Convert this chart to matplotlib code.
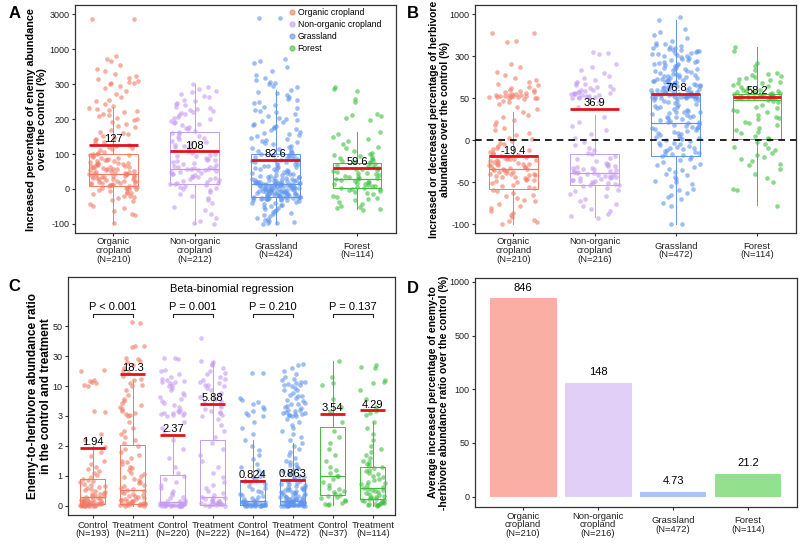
import numpy as np
import matplotlib
matplotlib.use('Agg')
import matplotlib.pyplot as plt
from matplotlib.lines import Line2D
from matplotlib.transforms import blended_transform_factory

plt.rcParams['font.family'] = ['Liberation Sans', 'DejaVu Sans']

# colours
pt_colors = ['#F27A63', '#C59BF2', '#5E94EE', '#3DBE3D']
bar_colors = ['#F9AFA3', '#E2CFF8', '#A9C6F2', '#93E08F']
mean_color = '#E3121C'
habitats = ['Organic cropland', 'Non-organic cropland', 'Grassland', 'Forest']

# ---------------- panel A: enemy abundance (%)
A_labels = ['Organic\ncropland\n(N=210)', 'Non-organic\ncropland\n(N=212)', 'Grassland\n(N=424)', 'Forest\n(N=114)']
A_org = [2750, 2720, 860, 800, 760, 690, 610, 560, 500, 470, 430, 400, 370, 345, 330, 318, 305,
         296, 288, 281, 272, 263, 256, 251, 244, 238, 233, 228, 226, 223, 219, 216, 213, 209, 204, 201,
         197, 191, 186, 181, 177, 169, 164, 161, 156, 151, 147, 143, 139, 134, 131, 127, 124, 121, 117, 114, 111, 107, 104, 101,
         99, 97, 96, 93, 91, 89, 88, 86, 84, 82, 81, 79, 77, 75, 74, 72, 71, 69, 67, 66, 64, 62, 61, 59, 57, 56, 54, 52,
         51, 49, 48, 47, 45, 44, 43, 41, 40, 38, 37, 35, 34, 32, 31, 29, 27, 26, 24, 22, 21, 19, 18, 16, 14, 13, 12, 10,
         9, 7, 6, 4, 3, 1, 46, 42, 36, 33, 28, 23, 17, 11, 8, 2, 53, 58, 63, 68, 73,
         -1, -3, -6, -8, -11, -13, -16, -19, -21, -24, -27, -31, -36, -42, -48, -56, -62, -71, -76, -99]
A_non = [301, 292, 287, 281, 277, 271, 266, 262, 256, 251, 247, 243, 239, 236, 233, 229, 227, 224, 221, 218, 214, 211,
         207, 203, 199, 196, 193, 189, 186, 182, 178, 174, 171, 167, 164, 161, 157, 153, 149, 146, 142, 138, 134, 131,
         127, 123, 119, 116, 112, 108, 104, 101, 98, 95, 93, 90, 87, 84, 82, 79, 77, 74, 71, 69, 66, 64, 61, 59, 57, 55,
         53, 51, 49, 47, 44, 42, 39, 37, 34, 31, 29, 26, 23, 21, 18, 15, 13, 11, 8, 6, 3, 0, 58, 62, 56, 48, 35, 27, 17,
         -4, -9, -14, -19, -26, -33, -41, -52, -61, -72, -84, -92, -99, -100]
A_grass = [2820, 2800, 810, 770, 720, 640, 560, 480, 420, 380, 352, 331, 312,
           296, 291, 284, 279, 274, 268, 263, 258, 254, 249, 246, 241, 236, 231, 227, 223, 219, 214, 209, 204, 201,
           197, 194, 191, 187, 184, 181, 177, 174, 171, 168, 164, 161, 157, 154, 151, 147, 144, 141, 137, 134, 131,
           128, 124, 121, 118, 114, 111, 108, 105, 102,
           100, 98, 96, 94, 93, 91, 89, 88, 86, 84, 83, 81, 79, 78, 76, 74, 72, 71, 69, 67, 66, 64, 62, 61, 59, 57,
           56, 54, 52, 51, 49, 47, 46, 44, 43, 41, 40, 38, 37, 35, 34, 33, 31, 30, 29, 27, 26, 25, 24, 22, 21, 20,
           19, 18, 17, 16, 15, 14, 13, 12, 11, 10, 9, 8, 7, 6, 5, 4, 3, 2, 1, 0,
           2, 5, 8, 11, 14, 17, 20, 23, 26, 29, 4, 7, 10, 13, 16, 19, 22, 1, 6, 12,
           -1, -2, -3, -4, -5, -6, -7, -8, -9, -10, -11, -12, -13, -14, -15, -16, -17, -18, -19, -20,
           -21, -22, -23, -24, -25, -26, -27, -28, -29, -30, -32, -33, -35, -37, -39, -41, -43, -45, -47, -50,
           -52, -55, -58, -61, -64, -67, -70, -73, -76, -79, -82, -85, -88, -91, -94, -97, -99, -100,
           -2, -5, -8, -12, -15, -18, -21, -24, -27, -29, -3, -7, -10, -14, -17, -20, -22, -25, -28, -31]
A_forest = [292, 286, 281, 258, 248, 214, 211, 209, 204, 198, 164, 158, 149, 143, 137, 128, 121, 116, 109, 104,
            99, 97, 94, 91, 89, 86, 83, 81, 78, 76, 73, 71, 68, 66, 63, 61, 58, 56, 54, 51, 49, 47, 45, 43, 41,
            38, 36, 34, 32, 30, 29, 27, 25, 23, 21, 19, 17, 15, 13, 11, 9, 7, 5, 4, 2, 1,
            -1, -3, -6, -9, -12, -16, -19, -23, -26, -29, -33, -38, -43, -48, -52, -55, -57, -59]
A_q1 = [9, 13, -22, 2]
A_med = [44, 58, 14, 29]
A_q3 = [100, 162, 100, 73]
A_lo = [-100, -100, -100, -57]
A_hi = [235, 300, 283, 164]
A_mean = [127, 108, 82.6, 59.6]

# ---------------- panel B: herbivore abundance (%)
B_labels = ['Organic\ncropland\n(N=210)', 'Non-organic\ncropland\n(N=216)', 'Grassland\n(N=472)', 'Forest\n(N=114)']
B_org = [690, 680, 560, 540, 255, 238, 205, 186, 172, 158, 147, 136, 127, 118, 109, 101, 96, 91, 86, 81, 76, 71,
         68, 66, 63, 60, 58, 56, 53, 51, 49, 47, 45, 43, 40, 37, 88, 74, 64, 55, 52, 57, 61,
         33, 30, 27, 24, 21, 18, 15, 12, 9, 6, 3, 1, -1, -3, -5, -7, -9, -11, -12, -14, -15, -17, -18, -19, -20,
         -21, -22, -23, -24, -25, -26, -27, -28, -29, -30, -31, -32, -33, -34, -35, -36, -37, -38, -39, -40, -41,
         -42, -43, -44, -45, -46, -47, -48, -49, -51, -53, -55, -57, -59, -61, -63, -65, -67, -69, -71, -73, -76,
         -79, -81, -84, -87, -89, -92, -95, -97, -98, -100,
         -20.5, -23.5, -26.5, -29.5, -32.5, -35.5, -38.5, -41.5, -44.5, -22, -28, -34, -40, -50, -56]
B_non = [372, 358, 331, 252, 238, 219, 201, 183, 171, 159, 148, 139, 133, 127, 122, 116, 111, 106, 101, 96, 92,
         88, 85, 83, 80, 77, 75, 72, 69, 67, 64, 62, 59, 57, 54, 52, 50, 45, 40,
         28, 22, 17, 12, 7, 3, -2, -6, -9, -12, -15, -17, -19, -21, -23, -25, -27, -29, -30, -31, -32, -33, -34,
         -35, -36, -37, -38, -39, -40, -41, -42, -43, -44, -45, -46, -47, -48, -49, -50, -51, -52, -53, -54, -55,
         -57, -59, -61, -64, -67, -70, -73, -76, -79, -82, -85, -88, -91, -93,
         -36.5, -39.5, -42.5, -45.5, -48.5, -33.5, -30.5, -51.5, -44, -38]
B_grass = [950, 900, 750, 700, 650, 600, 560, 520, 500, 480, 460, 440, 420, 400, 380, 360, 340, 320, 300, 290,
           280, 270, 262, 251, 243, 231, 222, 209, 201, 196, 189, 184, 178, 176, 169, 164, 161, 155, 151, 146, 139,
           136, 129, 126, 121, 114, 111, 106, 101, 98, 96, 93, 92, 89, 88, 85, 84, 81, 80, 77, 76, 73, 72, 70, 69,
           68, 66, 65, 64, 63, 61, 60, 59, 58, 57, 55, 54, 53, 52, 51, 49, 48, 47, 46, 45, 43, 42, 41, 40, 39, 37,
           36, 35, 34, 33, 31, 30, 29, 28, 27, 25, 24, 23, 22, 21, 19, 18, 17, 16, 15, 13, 12, 11, 10, 9, 7, 6, 5,
           4, 3, 1, 0, -1, -3, -4, -5, -6, -8, -9, -10, -11, -13, -14, -15, -16, -17, -19, -20, -22, -24, -26, -28,
           -30, -32, -34, -36, -38, -41, -42, -44, -46, -49, -50, -52, -55, -58, -60, -63, -65, -68, -70, -75, -79,
           -100, -100, 62, 56, 44, 38, 32, 26, 20, 14, 8, 2, -7, -12, -18, 48, 34, 16, 71, 67, 53, 27,
           470, 430, 410, 390, 370, 350, 330, 310, 295, 285, 275, 265, 255, 245, 235, 225, 215, 205, 192, 181,
           172, 166, 158, 148, 142, 133, 124, 117, 108, 103, 226, 248, 268, 212, 186, 157, 131]
B_forest = [450, 380, 262, 241, 219, 202, 188, 179, 171, 158, 149, 142, 128, 121, 109, 101, 95, 91, 85, 81, 76,
            72, 70, 68, 65, 62, 60, 58, 56, 55, 54, 52, 50, 48, 46, 45, 42, 40, 38, 36, 35, 33, 30, 28, 26, 25,
            22, 20, 18, 15, 12, 10, 8, 5, 3, 1, -2, -5, -8, -10, -12, -15, -18, -20, -22, -25, -28, -30, -35, -40,
            -45, -50, -58, -60, -78, 196, 174, 163, 139, 117, 98, 87, 78, 66, 57, 53, 51]
B_q1 = [-58, -54, -19, 1]
B_med = [-34.5, -39, 20.5, 48]
B_q3 = [-18, -16, 72, 74]
B_lo = [-100, -92, -100, -77]
B_hi = [33, 30, 900, 454]
B_mean = [-19.4, 36.9, 76.8, 58.2]

# ---------------- panel C: enemy-to-herbivore ratio
C_labels = ['Control\n(N=193)', 'Treatment\n(N=211)', 'Control\n(N=220)', 'Treatment\n(N=222)',
            'Control\n(N=164)', 'Treatment\n(N=472)', 'Control\n(N=37)', 'Treatment\n(N=114)']
C_org_ctrl = [21, 20, 14, 13.5, 12.8, 12, 11, 10.2, 4.1, 3.9, 2.4, 2.2, 1.95, 1.8, 1.65, 1.5, 1.4, 1.3, 1.22,
              1.15, 1.08, 1.02, 0.96, 0.9, 0.86, 0.82, 0.78, 0.74, 0.7, 0.66, 0.62, 0.58, 0.55, 0.52, 0.49, 0.46,
              0.43, 0.4, 0.38, 0.36, 0.33, 0.31, 0.29, 0.27, 0.25, 0.23, 0.21, 0.19, 0.18, 0.16, 0.15, 0.14, 0.12,
              0.11, 0.1, 0.09, 0.08, 0.07, 0.06, 0.05, 0.045, 0.04, 0.035, 0.03, 0.025, 0.02, 0.015, 0.01, 0.008,
              0.005, 0.003, 0.001, 0, 0, 0, 0.12, 0.06, 0.03, 0.18, 0.09]
C_org_trt = [53, 52, 37, 37, 36, 29, 28, 27, 26, 24, 22, 20, 19, 17, 15, 14, 12, 11, 10, 9, 8, 7, 6.5, 6, 5.5, 5,
             4.6, 4.2, 3.8, 3.5, 3.2, 3.0, 2.8, 2.6, 2.5, 2.4, 2.3, 2.2, 2.1, 2.0, 1.9, 1.8, 1.7, 1.6, 1.5, 1.45,
             1.4, 1.3, 1.25, 1.2, 1.1, 1.05, 1.0, 0.95, 0.9, 0.85, 0.8, 0.75, 0.7, 0.65, 0.6, 0.56, 0.52, 0.49,
             0.46, 0.43, 0.4, 0.37, 0.34, 0.31, 0.28, 0.26, 0.24, 0.22, 0.2, 0.18, 0.16, 0.14, 0.12, 0.1, 0.09,
             0.08, 0.07, 0.06, 0.05, 0.04, 0.03, 0.02, 0.01, 0.005, 0, 0.15, 0.07, 0.03]
C_non_ctrl = [29, 28.5, 28, 21, 20, 18, 16, 15, 14, 13, 12, 11, 10, 9, 8, 7, 6, 5.5, 5, 4.5, 4, 3.8, 3.6, 3.4,
              3.2, 3.1, 2.8, 2.6, 2.4, 2.2, 1.9, 1.6, 1.3, 1.1, 1.0, 0.9, 0.8, 0.7, 0.6, 0.5, 0.42, 0.36, 0.3,
              0.25, 0.2, 0.17, 0.14, 0.12, 0.1, 0.09, 0.08, 0.07, 0.06, 0.05, 0.04, 0.035, 0.03, 0.025, 0.02,
              0.015, 0.012, 0.01, 0.008, 0.006, 0.004, 0.003, 0.002, 0.001, 0, 0, 0, 0,
              13.5, 12.5, 9.5, 8.5, 7.5, 6.5, 4.2, 3.7, 3.3, 0.05, 0.02, 0.01]
C_non_trt = [42, 27, 26, 25, 24, 22, 20, 19, 18, 16, 15, 14, 13, 12, 11, 10.5, 10, 9.5, 9, 8.5, 8, 7.5, 7, 6.5, 6,
             5.5, 5, 4.6, 4.2, 3.9, 3.6, 3.3, 3.1, 2.9, 2.7, 2.5, 2.3, 2.1, 1.9, 1.7, 1.5, 1.3, 1.1, 0.95, 0.8,
             0.7, 0.6, 0.5, 0.42, 0.36, 0.3, 0.26, 0.22, 0.19, 0.16, 0.14, 0.12, 0.1, 0.08, 0.07, 0.06, 0.05,
             0.04, 0.03, 0.02, 0.01, 0.005, 0, 0.25, 0.15, 0.09, 0.04]
C_grass_ctrl = [19, 18.5, 7.2, 6.8, 6.2, 5.8, 5.2, 4.6, 4.2, 3.6, 3.3, 3.0, 2.8, 2.6, 2.4, 2.2, 2.0, 1.85, 1.7,
                1.55, 1.4, 1.3, 1.2, 1.1, 1.0, 0.95, 0.9, 0.84, 0.78, 0.72, 0.66, 0.6, 0.55, 0.5, 0.45, 0.4, 0.36,
                0.32, 0.28, 0.25, 0.22, 0.19, 0.17, 0.15, 0.13, 0.11, 0.1, 0.09, 0.08, 0.07, 0.06, 0.05, 0.04,
                0.035, 0.03, 0.025, 0.02, 0.015, 0.01, 0.008, 0.005, 0.003, 0.001, 0, 0, 0, 0.06, 0.03, 0.12]
C_grass_trt = [25, 24, 22, 20, 18, 16, 15, 14, 13, 12, 11.5, 11, 10.5, 10, 9.5, 9, 8.5, 8, 7.6, 7.2, 6.8, 6.4, 6,
               5.7, 5.4, 5.1, 4.8, 4.5, 4.2, 4.0, 3.8, 3.6, 3.4, 3.2, 3.1, 3.0, 2.9, 2.8, 2.7, 2.6, 2.5, 2.4, 2.3,
               2.2, 2.1, 2.0, 1.9, 1.8, 1.7, 1.6, 1.5, 1.45, 1.4, 1.35, 1.3, 1.25, 1.2, 1.15, 1.1, 1.05, 1.0,
               0.96, 0.92, 0.88, 0.84, 0.8, 0.76, 0.72, 0.68, 0.64, 0.6, 0.57, 0.54, 0.51, 0.48, 0.45, 0.42, 0.39,
               0.36, 0.33, 0.3, 0.28, 0.26, 0.24, 0.22, 0.2, 0.18, 0.16, 0.15, 0.14, 0.13, 0.12, 0.11, 0.1, 0.09,
               0.08, 0.07, 0.06, 0.05, 0.045, 0.04, 0.035, 0.03, 0.025, 0.02, 0.015, 0.01, 0.008, 0.006, 0.004,
               0.002, 0, 0, 0, 0, 0.62, 0.55, 0.47, 0.41, 0.34, 0.29, 0.23, 0.17, 0.11, 0.07, 0.03, 0.01,
               0.74, 0.66, 0.52, 0.43, 0.37, 0.27, 0.21, 0.13, 0.08, 0.04, 3.3, 3.5, 4.4, 5.9, 7.8, 9.2, 12.5]
C_for_ctrl = [27, 16, 12, 11, 7, 5, 4, 2.8, 2.5, 2.3, 2.1, 1.9, 1.7, 1.5, 1.3, 1.2, 1.1, 1.0, 0.98, 0.9, 0.8, 0.7,
              0.6, 0.55, 0.5, 0.45, 0.4, 0.36, 0.33, 0.3, 0.25, 0.2, 0.15, 0.1, 0.07, 0.04, 0.02]
C_for_trt = [24, 23, 22, 14, 13, 12, 9, 7, 5, 4.2, 3.6, 3.2, 2.8, 2.6, 2.4, 2.2, 2.0, 1.9, 1.8, 1.7, 1.6, 1.5,
             1.45, 1.4, 1.35, 1.3, 1.25, 1.2, 1.15, 1.1, 1.05, 1.0, 0.95, 0.9, 0.85, 0.8, 0.76, 0.72, 0.68, 0.64,
             0.6, 0.57, 0.54, 0.51, 0.48, 0.45, 0.42, 0.39, 0.36, 0.33, 0.3, 0.28, 0.26, 0.24, 0.22, 0.2, 0.18,
             0.16, 0.14, 0.12, 0.1, 0.08, 0.06, 0.05, 0.04, 0.03, 0.02, 0.01, 0]
C_q1 = [0.04, 0.05, 0.01, 0.02, 0.01, 0.01, 0.35, 0.23]
C_med = [0.3, 0.51, 0.12, 0.3, 0.15, 0.15, 0.98, 0.59]
C_q3 = [0.88, 2.02, 1.02, 2.19, 0.85, 0.88, 2.63, 1.29]
C_lo = [0, 0, 0, 0, 0, 0, 0.02, 0]
C_hi = [2.0, 14, 2.4, 27, 2.2, 2.1, 27, 2.8]
C_mean = [1.94, 18.3, 2.37, 5.88, 0.824, 0.863, 3.54, 4.29]
C_pvals = ['P < 0.001', 'P = 0.001', 'P = 0.210', 'P = 0.137']

# ---------------- panel D: average increase of ratio (%)
D_labels = ['Organic\ncropland\n(N=210)', 'Non-organic\ncropland\n(N=216)', 'Grassland\n(N=472)', 'Forest\n(N=114)']
D_vals = [846, 148, 4.73, 21.2]


def piecewise(breaks, idx):
    b = np.asarray(breaks, float)
    k = np.asarray(idx, float)
    return (lambda v: np.interp(v, b, k)), (lambda v: np.interp(v, k, b))


def style(ax):
    for s in ax.spines.values():
        s.set_color('#333333')
        s.set_linewidth(0.9)
    ax.tick_params(direction='out', length=2.5, width=0.8, color='#333333',
                   labelsize=6.5, labelcolor='#222222')
    ax.tick_params(axis='y', pad=1.5)
    ax.tick_params(axis='x', labelsize=6.8)
    ax.yaxis.set_minor_locator(matplotlib.ticker.NullLocator())


def xlabels(ax, labels, pad):
    ax.set_xticks(np.arange(1, len(labels) + 1))
    ax.set_xticklabels(labels, linespacing=0.95, va='center')
    ax.tick_params(axis='x', pad=pad)


def strip(ax, groups, cols, width, size=11):
    for i, (vals, c) in enumerate(zip(groups, cols)):
        v = np.asarray(vals, float)
        h = np.sin((np.arange(len(v)) + 1 + 37 * i) * 12.9898) * 43758.5453
        jit = (h - np.floor(h) - 0.5) * 2 * width
        ax.scatter(i + 1 + jit, v, s=size, color=c, alpha=0.6, lw=0, zorder=2)


def boxes(ax, q1, med, q3, lo, hi, cols, width):
    for i in range(len(q1)):
        st = dict(q1=q1[i], med=med[i], q3=q3[i], whislo=lo[i], whishi=hi[i], fliers=[])
        c = cols[i]
        ax.bxp([st], positions=[i + 1], widths=width, showcaps=False, manage_ticks=False,
               boxprops=dict(color=c, lw=0.7), whiskerprops=dict(color=c, lw=0.7),
               medianprops=dict(color=c, lw=0.9), zorder=3)


def means(ax, vals, width):
    for i, m in enumerate(vals):
        ax.hlines(m, i + 1 - width / 2, i + 1 + width / 2, color=mean_color, lw=2, zorder=4)
        ax.annotate(f'{m:.3g}', (i + 1, m), xytext=(0, 0.5), textcoords='offset points',
                    ha='center', va='bottom', fontsize=8, zorder=5)


fig = plt.figure(figsize=(8, 5.54), dpi=100)
axA = fig.add_axes([0.094, 0.579, 0.401, 0.412])
axB = fig.add_axes([0.594, 0.579, 0.401, 0.412])
axC = fig.add_axes([0.085, 0.0705, 0.409, 0.4295])
axD = fig.add_axes([0.594, 0.085, 0.402, 0.413])

# A
axA.set_yscale('function', functions=piecewise([-1000, -100, 0, 100, 200, 300, 1000, 3000, 30000],
                                               [-9, 0, 1, 2, 3, 4, 5, 6, 19.5]))
strip(axA, [A_org, A_non, A_grass, A_forest], pt_colors, 0.3)
boxes(axA, A_q1, A_med, A_q3, A_lo, A_hi, pt_colors, 0.6)
means(axA, A_mean, 0.6)
axA.set_yticks([-100, 0, 100, 200, 300, 1000, 3000])
axA.set_yticklabels(['-100', '0', '100', '200', '300', '1000', '3000'])
axA.set_ylim(-127, 3540)
axA.set_xlim(0.53, 4.48)
style(axA)
xlabels(axA, A_labels, 10)
axA.set_ylabel('Increased percentage of enemy abundance\nover the control (%)', fontsize=7.8,
               fontweight='bold', linespacing=1.1)
axA.yaxis.set_label_coords(-0.088, 0.5)
handles = [Line2D([], [], marker='o', ls='', color=c, alpha=0.6, ms=3.5) for c in pt_colors]
axA.legend(handles, habitats, loc='upper left', bbox_to_anchor=(0.64, 1.015), frameon=False,
           fontsize=6.2, labelspacing=0.36, handletextpad=0.1, handlelength=1.2, borderpad=0.2)

# B
axB.set_yscale('function', functions=piecewise([-1000, -100, -50, 0, 50, 300, 1000, 10000],
                                               [-18, 0, 1, 2, 3, 4, 5, 5 + 9000 / 700]))
strip(axB, [B_org, B_non, B_grass, B_forest], pt_colors, 0.3)
boxes(axB, B_q1, B_med, B_q3, B_lo, B_hi, pt_colors, 0.6)
means(axB, B_mean, 0.6)
axB.axhline(0, color='black', ls=(0, (4, 3)), lw=1.2, zorder=3)
axB.set_yticks([-100, -50, 0, 50, 300, 1000])
axB.set_yticklabels(['-100', '-50', '0', '50', '300', '1000'])
axB.set_ylim(-111, 1154)
axB.set_xlim(0.53, 4.48)
style(axB)
xlabels(axB, B_labels, 10)
axB.set_ylabel('Increased or decreased percentage of herbivore\nabundance over the control (%)', fontsize=7.5,
               fontweight='bold', linespacing=1.1)
axB.yaxis.set_label_coords(-0.08, 0.5)

# C
axC.set_yscale('function', functions=piecewise([-10, 0, 1, 2, 3, 10, 30, 50, 500],
                                               [-10, 0, 1, 2, 3, 4, 5, 6, 28.5]))
C_groups = [C_org_ctrl, C_org_trt, C_non_ctrl, C_non_trt, C_grass_ctrl, C_grass_trt, C_for_ctrl, C_for_trt]
C_cols = [c for c in pt_colors for _ in range(2)]
strip(axC, C_groups, C_cols, 0.32)
boxes(axC, C_q1, C_med, C_q3, C_lo, C_hi, C_cols, 0.62)
means(axC, C_mean, 0.62)
axC.set_yticks([0, 1, 2, 3, 10, 30, 50])
axC.set_yticklabels(['0', '1', '2', '3', '10', '30', '50'])
axC.set_ylim(-0.31, 83)
axC.set_xlim(0.38, 8.56)
style(axC)
xlabels(axC, C_labels, 8)
axC.set_ylabel('Enemy-to-herbivore abundance ratio\nin the control and treatment', fontsize=8.5,
               fontweight='bold', linespacing=1.1)
axC.yaxis.set_label_coords(-0.05, 0.5)
tr = blended_transform_factory(axC.transData, axC.transAxes)
for k, p in enumerate(C_pvals):
    x0, x1 = 2 * k + 1, 2 * k + 2
    axC.plot([x0, x0, x1, x1], [0.832, 0.846, 0.846, 0.832], transform=tr, color='#222222', lw=0.8)
    axC.text((x0 + x1) / 2, 0.872, p, transform=tr, ha='center', va='center', fontsize=8)
axC.text(0.5, 0.948, 'Beta-binomial regression', transform=axC.transAxes, ha='center', va='center',
         fontsize=8)

# D
axD.set_yscale('function', functions=piecewise([-500, 0, 50, 100, 500, 1000, 10000],
                                               [-10, 0, 1, 2, 3, 4, 22]))
xd = np.arange(1, len(D_vals) + 1)
axD.bar(xd, D_vals, width=0.89, color=bar_colors, zorder=2)
for x, v in zip(xd, D_vals):
    axD.annotate(f'{v:.3g}', (x, v), xytext=(0, 4), textcoords='offset points', ha='center',
                 va='bottom', fontsize=8)
axD.set_yticks([0, 50, 100, 500, 1000])
axD.set_yticklabels(['0', '50', '100', '500', '1000'])
axD.set_ylim(-9.5, 1035)
axD.set_xlim(0.36, 4.65)
style(axD)
xlabels(axD, D_labels, 10.5)
axD.set_ylabel('Average increased percentage of enemy-to\n-herbivore abundance ratio over the control (%)',
               fontsize=7.5, fontweight='bold', linespacing=1.1)
axD.yaxis.set_label_coords(-0.082, 0.5)

for lbl, (x, y) in zip('ABCD', [(0.018, 0.975), (0.516, 0.975), (0.018, 0.482), (0.516, 0.48)]):
    fig.text(x, y, lbl, fontsize=12, fontweight='bold', ha='center', va='center')

fig.savefig('out.png', dpi=100)
